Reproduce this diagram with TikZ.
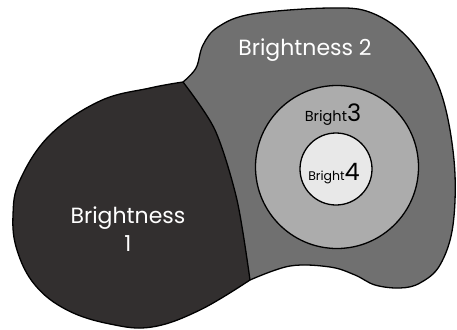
\documentclass[tikz,border=0pt]{standalone}
\usepackage{fontspec}
\setmainfont{Poppins}
\usetikzlibrary{positioning}
\definecolor{darkzone}{RGB}{50,47,47}
\definecolor{midzone}{RGB}{112,112,112}
\definecolor{lightzone}{RGB}{172,172,172}
\definecolor{palezone}{RGB}{232,232,232}

\begin{document}
\begin{tikzpicture}[
  x=1pt, y=-1pt,
  zone/.style={draw=black, line width=1.3pt, line join=round},
  ring/.style={circle, draw=black, line width=1.3pt, inner sep=0pt},
  biglabel/.style={white, font=\fontsize{22}{28}\selectfont, align=center},
  smalllabel/.style={black, inner sep=0pt}
]
\useasboundingbox (0,0) rectangle (457,329);

% Brightness 2 (right lobe)
\fill[midzone] plot[smooth, tension=0.6] coordinates {(183,82) (196,68) (203,45) (218,27) (252,14) (330,8) (372,13) (410,40) (440,90) (454,160) (453,225) (440,265) (420,283) (400,288) (375,285) (355,275) (330,267) (290,266) (250,280)}
  -- plot[smooth] coordinates {(250,280) (237,200) (215,130) (183,82)} -- cycle;
\draw[zone] plot[smooth, tension=0.6] coordinates {(183,82) (196,68) (203,45) (218,27) (252,14) (330,8) (372,13) (410,40) (440,90) (454,160) (453,225) (440,265) (420,283) (400,288) (375,285) (355,275) (330,267) (290,266) (250,280)};

% Brightness 1 (left lobe)
\fill[darkzone] plot[smooth, tension=0.65] coordinates {(183,82) (150,88) (100,101) (50,135) (20,180) (13,215) (17,250) (35,285) (67,310) (110,324) (152,327) (200,310) (250,280)}
  -- plot[smooth] coordinates {(250,280) (237,200) (215,130) (183,82)} -- cycle;
\draw[zone] plot[smooth, tension=0.65] coordinates {(183,82) (150,88) (100,101) (50,135) (20,180) (13,215) (17,250) (35,285) (67,310) (110,324) (152,327) (200,310) (250,280)}
  -- plot[smooth] coordinates {(250,280) (237,200) (215,130) (183,82)};

% Inner rings
\node[ring, fill=lightzone, minimum size=163pt] (ring3) at (337,167) {};
\node[ring, fill=palezone, minimum size=72pt] (ring4) at (336,169) {};

% Labels
\node[biglabel] (lbl2) at (305,50) {Brightness 2};
\node[biglabel] (lbl1) at (128,229) {Brightness\\1};
\node[smalllabel] (lbl3) at (333,115) {\fontsize{14.5}{16}\selectfont Bright\fontsize{24}{26}\selectfont 3};
\node[smalllabel] (lbl4) at (334,174) {\fontsize{12.5}{14}\selectfont Bright\fontsize{24}{26}\selectfont 4};
\end{tikzpicture}
\end{document}
